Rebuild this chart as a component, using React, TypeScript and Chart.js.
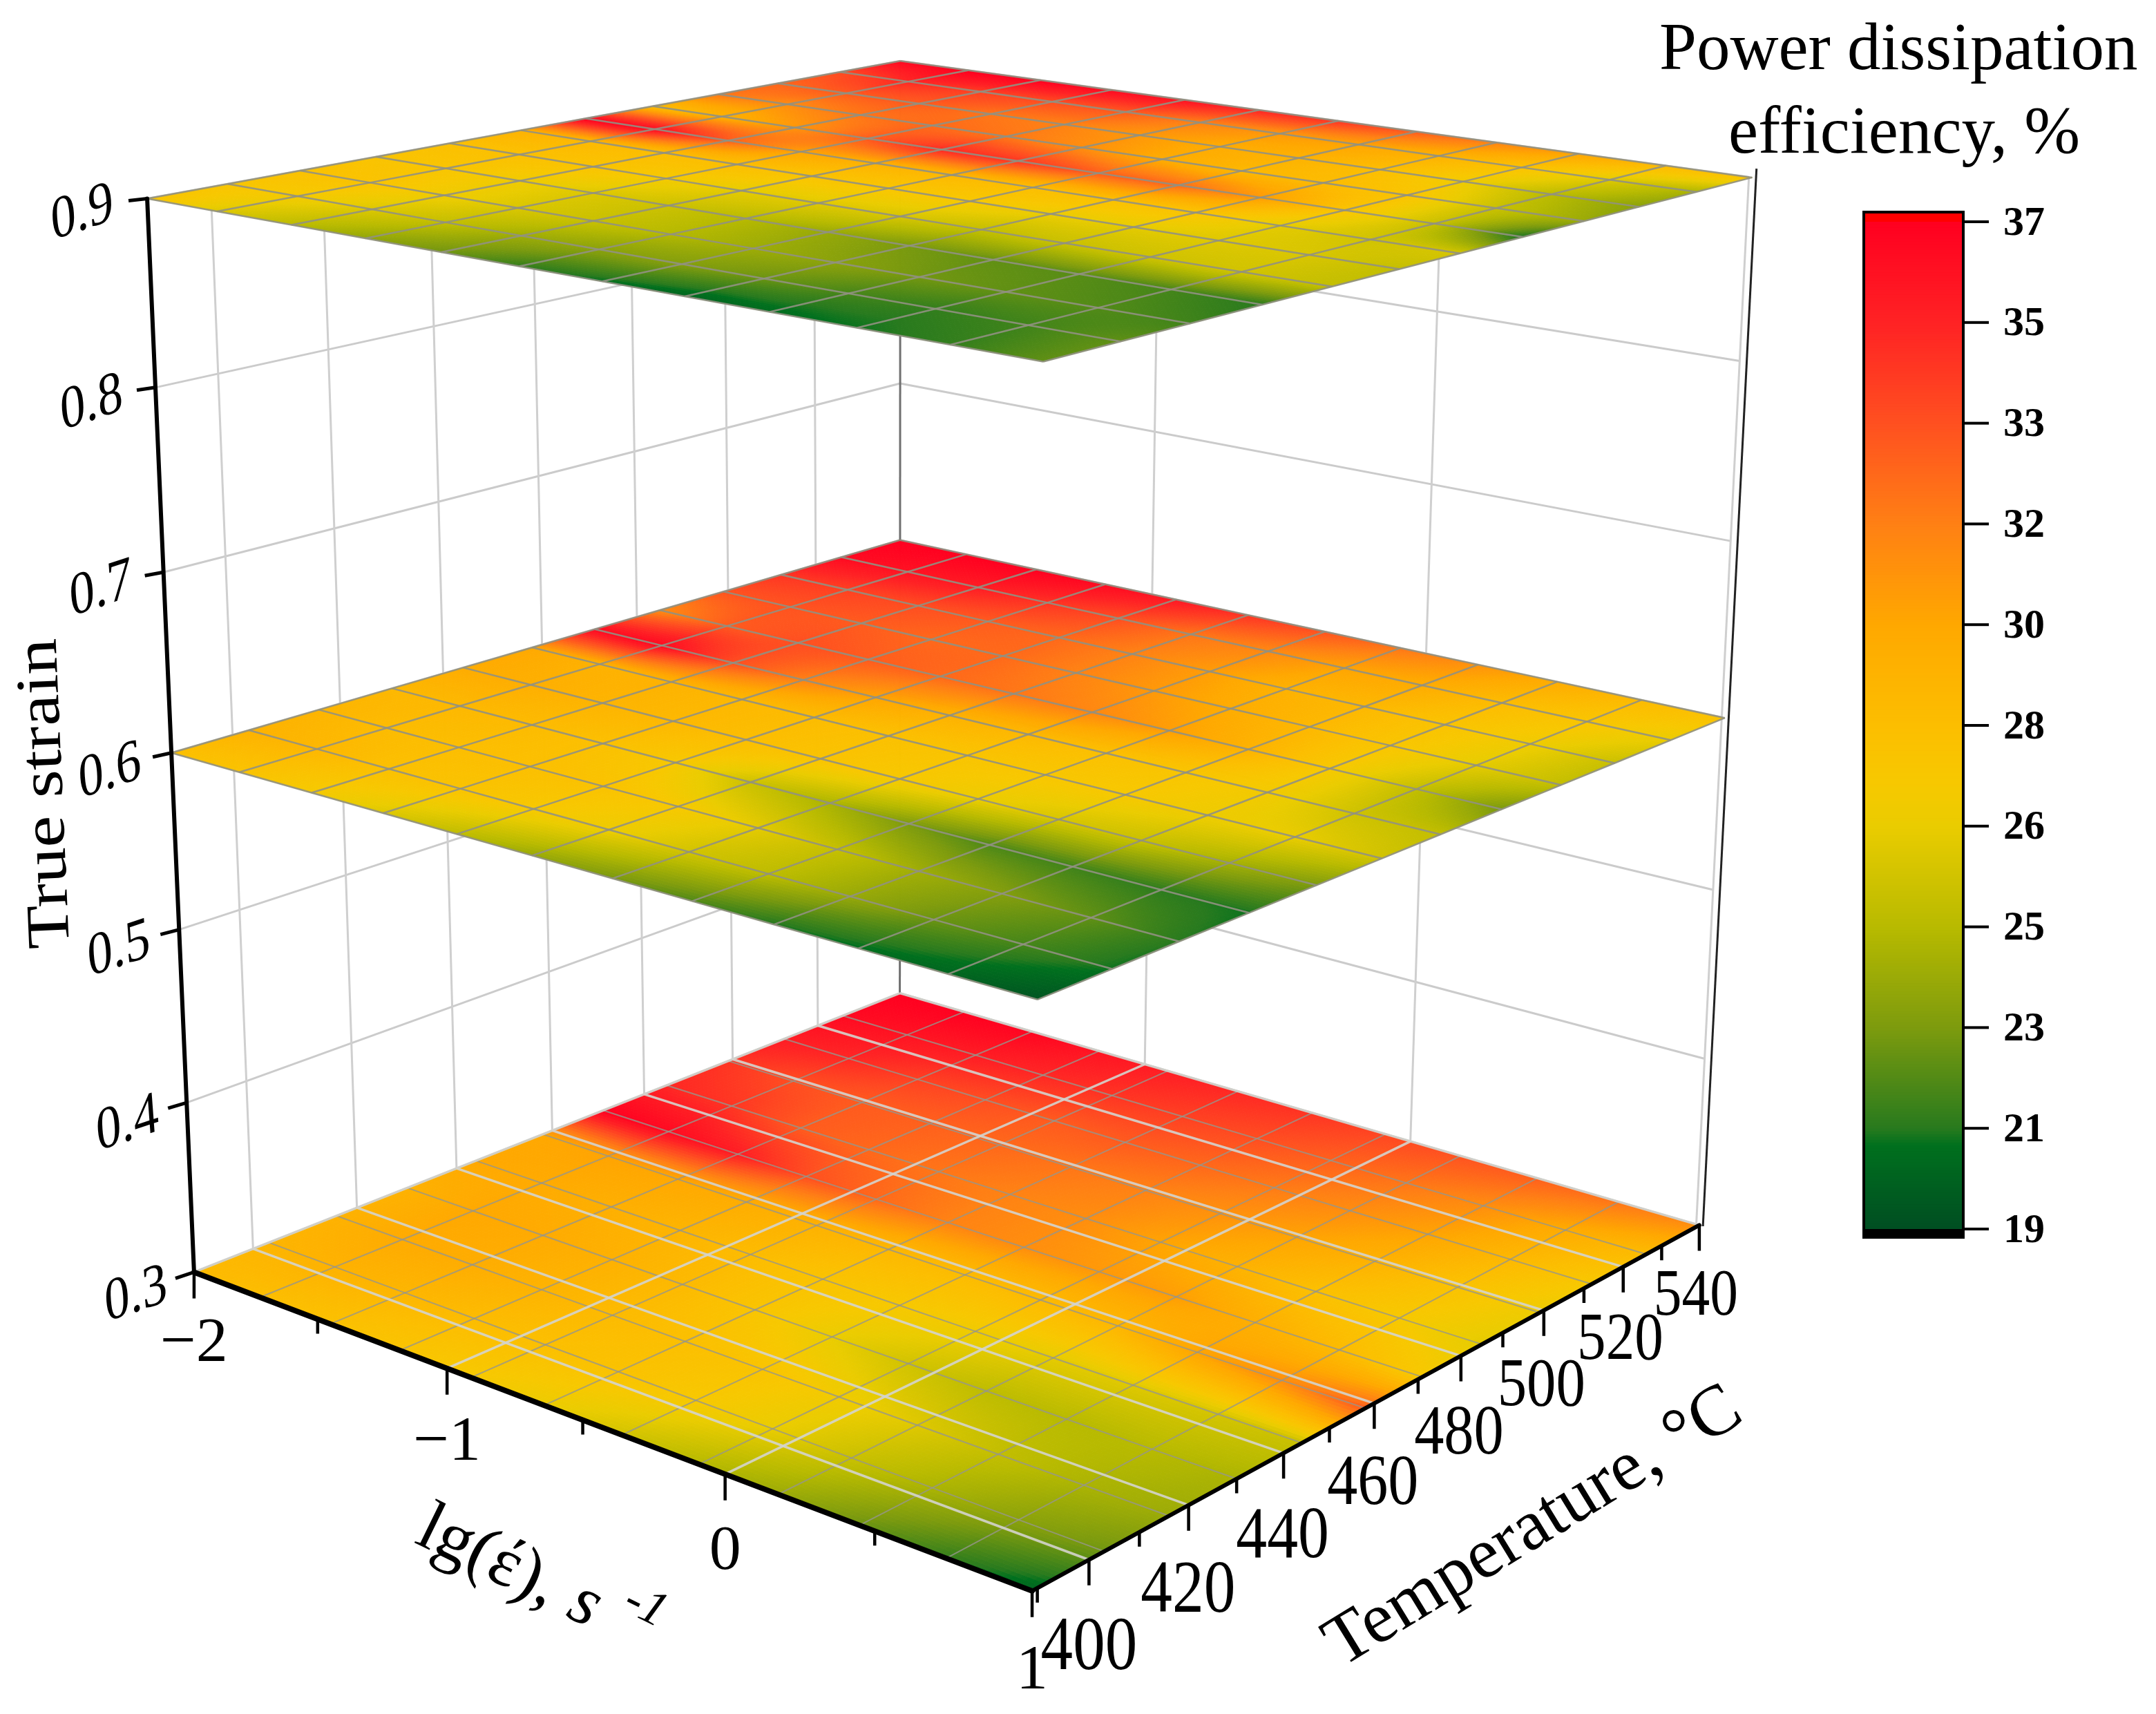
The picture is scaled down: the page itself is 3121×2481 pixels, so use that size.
import React, { useEffect, useRef } from "react";
import { Chart, registerables } from "chart.js";

Chart.register(...registerables);

const WIDTH = 3121;
const HEIGHT = 2481;
const SERIF = '"Liberation Serif", "Times New Roman", serif';

// mesh nodes of the response surfaces
const lgNodes = [-2, -1.73, -1.45, -1.18, -0.91, -0.64, -0.36, -0.09, 0.18, 0.45, 0.73, 1];
const tempNodes = [389, 403, 416, 430, 444, 458, 471, 485, 499, 512, 526, 540];

// efficiency, one row per temperature node (low to high), one column per lg node
const surface03 = [
  [28.3, 28, 27.7, 27.4, 26.9, 26.3, 25.3, 24.3, 23.5, 22.2, 21, 20],
  [28.8, 29, 28.7, 28.2, 27.9, 27.6, 27, 26.2, 25, 24, 23, 22.3],
  [29, 29.6, 29.4, 28.9, 28.3, 27.9, 27.5, 26.6, 25.8, 24.8, 24, 23.5],
  [29, 29.8, 29.6, 29.1, 28.4, 27.4, 26.2, 25.3, 24.6, 24.4, 24.4, 24],
  [29.8, 29.6, 29.2, 28.8, 28.2, 27.5, 27, 26.5, 26, 25.8, 25.4, 25],
  [29.8, 30, 29.8, 29.4, 29, 28.5, 28.2, 28.3, 28.6, 30, 31, 33],
  [37, 36.5, 35.5, 33.5, 32.5, 31.5, 31, 30.5, 30.3, 29.3, 28.3, 27],
  [35, 34.5, 33, 32.5, 32, 31.5, 31, 30, 29, 27.8, 27, 26],
  [34.5, 33.5, 33, 32.8, 32.5, 32, 31.5, 30.8, 30, 29, 27.6, 26.4],
  [35.5, 35, 34, 33.5, 33, 33, 32.5, 31.8, 31, 30, 28.5, 27],
  [36.5, 36, 35.5, 35, 34.5, 34, 33.5, 32.8, 32, 31, 29.5, 28.2],
  [37, 37, 36.8, 36, 35.4, 35, 34.5, 33.8, 33.3, 32.8, 32, 31],
];
const surface06 = [
  [27.8, 27.5, 26.8, 25.7, 24.6, 23.4, 22.5, 21.6, 20.7, 20.4, 20, 19.3],
  [29, 28.6, 27.8, 27.5, 27, 26.4, 25.3, 24.6, 23.4, 22.2, 21.4, 20.6],
  [28.8, 28.2, 28, 27.9, 27.6, 27, 26, 24.9, 23.7, 22.8, 22, 20.8],
  [28.5, 28.5, 28.3, 27.8, 27, 25.1, 24, 22.6, 21.6, 21.3, 20.9, 20.6],
  [29.5, 29.3, 28.8, 28.5, 28, 27.5, 27, 26.3, 25.5, 25, 23.8, 22.6],
  [29.8, 29, 29, 28.5, 28.2, 27.8, 27.4, 27.2, 27, 26.4, 26.2, 25.3],
  [36.5, 36.5, 33.5, 31.5, 30, 29, 28.5, 27.8, 27.3, 26.7, 25.2, 24.8],
  [31, 33, 33.5, 33, 32.5, 32, 31.3, 30.3, 29, 27, 24.8, 22.5],
  [33.3, 33.3, 33, 32.5, 32.5, 31.5, 30.5, 29.5, 28.5, 27.3, 26, 24.8],
  [34.5, 34, 33.5, 33, 32.5, 31.5, 30.3, 29, 28.5, 27.5, 26.5, 25],
  [36.5, 36, 35.5, 34.5, 33.5, 32, 31.2, 30, 29.5, 28.2, 27.3, 26.2],
  [37, 37, 37, 36.5, 35.7, 34.5, 33.3, 32, 30.8, 29.5, 28.3, 27.6],
];
const surface09 = [
  [27.5, 25.7, 24.5, 23.2, 22.3, 21, 20.4, 20, 20.3, 20.6, 21, 22],
  [27.3, 26.8, 25.7, 24.8, 23.6, 23, 22.8, 22.2, 21.4, 21, 21.3, 22],
  [27.7, 27.5, 26.5, 25.6, 25, 24.3, 23.6, 23, 22.4, 22, 21.7, 21.3],
  [27.5, 27.3, 26.5, 25.7, 25.1, 24.4, 23.4, 22.5, 22, 21.8, 21.4, 20.8],
  [27.8, 27.8, 27.5, 26.8, 26, 25.8, 25.5, 24.8, 25, 25.2, 25.3, 24.8],
  [29, 28.5, 28, 28, 27.5, 27.3, 27, 26.3, 26, 25.8, 25.6, 24.8],
  [37, 36.5, 33, 30, 29, 28.5, 28, 27.8, 27.5, 26, 25.3, 25.5],
  [28, 29, 30.5, 33, 35, 34.5, 33, 32.5, 30.5, 27.5, 25, 20.5],
  [32, 31, 32, 32.5, 32, 31, 29.5, 28.5, 28.3, 27.5, 25, 23.5],
  [32.5, 33, 33, 32, 31.5, 30.5, 29.5, 29, 28, 26.5, 24.5, 23],
  [33.5, 35, 34, 33.5, 33, 31.5, 30.5, 30, 29, 27.6, 25.8, 24],
  [36.5, 37, 37, 36.5, 36, 35, 34.5, 33, 31.5, 30, 28.3, 27.5],
];

// axis ticks
const strainTicks = [0.3, 0.4, 0.5, 0.6, 0.7, 0.8, 0.9];
const strainLabels = ["0.3", "0.4", "0.5", "0.6", "0.7", "0.8", "0.9"];
const lgMajor = [-2, -1, 0, 1];
const lgMinor = [-1.5, -0.5, 0.5];
const lgLabels = ["\u22122", "\u22121", "0", "1"];
const tempMajor = [400, 420, 440, 460, 480, 500, 520, 540];
const tempMinor = [390, 410, 430, 450, 470, 490, 510, 530];
const tempLabels = ["400", "420", "440", "460", "480", "500", "520", "540"];
const legendTicks = ["37", "35", "33", "32", "30", "28", "26", "25", "23", "21", "19"];

// colour scale of the legend
const colorValues = [19, 20.5, 20.8, 22.6, 24.4, 26.2, 27, 28, 29.8, 31.6, 33.4, 35.2, 37];
const colorStops = [
  [0, 78, 34], [0, 112, 30], [40, 122, 30], [125, 155, 14], [184, 186, 0], [234, 204, 0], [247, 200, 0],
  [252, 190, 0], [255, 168, 0], [255, 128, 20], [255, 80, 32], [255, 34, 36], [255, 0, 32],
];

function colorFor(v: number) {
  if (v <= colorValues[0]) return `rgb(${colorStops[0].join(",")})`;
  for (let i = 1; i < colorValues.length; i++) {
    if (v <= colorValues[i]) {
      const f = (v - colorValues[i - 1]) / (colorValues[i] - colorValues[i - 1]);
      const a = colorStops[i - 1];
      const b = colorStops[i];
      return `rgb(${Math.round(a[0] + (b[0] - a[0]) * f)},${Math.round(a[1] + (b[1] - a[1]) * f)},${Math.round(a[2] + (b[2] - a[2]) * f)})`;
    }
  }
  return `rgb(${colorStops[colorStops.length - 1].join(",")})`;
}

// camera: a projective matrix solved from where the box corners appear
const boxCorners = [
  [0, 0, 0, 281, 1841], [1, 0, 0, 1491, 2303], [1, 1, 0, 2461, 1771], [0, 1, 0, 1303, 1439],
  [0, 0, 0.5, 249, 1089], [1, 0, 0.5, 1503, 1449], [1, 1, 0.5, 2498, 1040], [0, 1, 0.5, 1302, 782],
  [0, 0, 1, 213, 287], [1, 0, 1, 1511, 523], [1, 1, 1, 2535, 257], [0, 1, 1, 1303, 88],
];
function solveCamera() {
  const rows: number[][] = [];
  for (const [u, v, w, px, py] of boxCorners) {
    const x = px / 1000;
    const y = py / 1000;
    rows.push([u, v, w, 1, 0, 0, 0, 0, -x * u, -x * v, -x * w, x]);
    rows.push([0, 0, 0, 0, u, v, w, 1, -y * u, -y * v, -y * w, y]);
  }
  const n = 11;
  const m: number[][] = [];
  for (let i = 0; i < n; i++) {
    m.push(new Array(n + 1).fill(0));
    for (let j = 0; j <= n; j++) for (const r of rows) m[i][j] += r[i] * r[j];
  }
  for (let c = 0; c < n; c++) {
    let p = c;
    for (let r = c + 1; r < n; r++) if (Math.abs(m[r][c]) > Math.abs(m[p][c])) p = r;
    [m[c], m[p]] = [m[p], m[c]];
    for (let r = 0; r < n; r++) {
      if (r === c) continue;
      const f = m[r][c] / m[c][c];
      for (let j = c; j <= n; j++) m[r][j] -= f * m[c][j];
    }
  }
  return m.map((r, i) => r[n] / r[i]);
}
const cam = solveCamera();
const T_MIN = 389;
const T_MAX = 540;
function project(lg: number, temp: number, strain: number) {
  const u = (lg + 2) / 3;
  const v = (temp - T_MIN) / (T_MAX - T_MIN);
  const w = (strain - 0.3) / 0.6;
  const d = cam[8] * u + cam[9] * v + cam[10] * w + 1;
  return {
    x: (1000 * (cam[0] * u + cam[1] * v + cam[2] * w + cam[3])) / d,
    y: (1000 * (cam[4] * u + cam[5] * v + cam[6] * w + cam[7])) / d,
  };
}

let seq = 100000;
function seg(points: { x: number; y: number }[], color: string, width: number, cap = "butt") {
  return {
    type: "line",
    data: points,
    parsing: false,
    borderColor: color,
    borderWidth: width,
    borderCapStyle: cap,
    pointRadius: 0,
    tension: 0,
    fill: false,
    order: seq--,
  };
}
function off(p: { x: number; y: number }, dx: number, dy: number) {
  return { x: p.x + dx, y: p.y + dy };
}

function surfaceDataset(values: number[][], strain: number) {
  const data: { x: number; y: number }[] = [];
  tempNodes.forEach((t) => lgNodes.forEach((l) => data.push(project(l, t, strain))));
  return {
    type: "scatter",
    data,
    parsing: false,
    pointRadius: 0,
    showLine: false,
    surface: values,
    order: seq--,
  };
}

function meshDatasets(strain: number, color: string, width: number) {
  const out: any[] = [];
  tempNodes.forEach((t) => out.push(seg(lgNodes.map((l) => project(l, t, strain)), color, width)));
  lgNodes.forEach((l) => out.push(seg(tempNodes.map((t) => project(l, t, strain)), color, width)));
  return out;
}

function buildDatasets() {
  seq = 100000;
  const ds: any[] = [];
  const wallH = "#cbcbcb";
  const wallV = "#cfcfcf";
  // back walls
  for (const z of strainTicks) {
    ds.push(seg([project(-2, T_MIN, z), project(-2, T_MAX, z)], wallH, 3));
    ds.push(seg([project(-2, T_MAX, z), project(0.99, T_MAX, z)], wallH, 3));
  }
  for (const t of tempMajor.slice(0, -1)) {
    ds.push(seg([project(-2, t, 0.3), project(-2, t, 0.9)], wallV, 3));
  }
  for (const l of [-1, 0, 0.99]) {
    ds.push(seg([project(l, T_MAX, 0.3), project(l, T_MAX, 0.9)], wallV, 3));
  }
  ds.push(seg([project(-2, T_MAX, 0.3), project(-2, T_MAX, 0.9)], "#707070", 3));
  ds.push(seg([project(1.012, T_MAX, 0.3), project(1.012, T_MAX, 0.905)], "#222222", 3));

  // bottom layer with floor grid on top of it
  ds.push(surfaceDataset(surface03, 0.3));
  ds.push(...meshDatasets(0.3, "rgba(150,150,140,0.8)", 2));
  for (const t of tempMajor) {
    ds.push(seg([project(-2, t, 0.3), project(1, t, 0.3)], "rgba(212,212,206,0.9)", 3.5));
  }
  for (const l of lgMajor) {
    ds.push(seg([project(l, T_MIN, 0.3), project(l, T_MAX, 0.3)], "rgba(212,212,206,0.9)", 3.5));
  }
  // middle and top layers
  ds.push(surfaceDataset(surface06, 0.6));
  ds.push(...meshDatasets(0.6, "rgba(145,145,130,0.9)", 2.5));
  ds.push(surfaceDataset(surface09, 0.9));
  ds.push(...meshDatasets(0.9, "rgba(145,145,130,0.9)", 2.5));

  // axes
  ds.push(seg([project(-2, T_MIN, 0.3), project(-2, T_MIN, 0.9)], "#000", 6, "round"));
  ds.push(seg([project(-2, T_MIN, 0.3), project(1, T_MIN, 0.3)], "#000", 8, "round"));
  ds.push(seg([project(1, T_MIN, 0.3), project(1, T_MAX, 0.3)], "#000", 6, "round"));
  strainTicks.forEach((z) => {
    const p = project(-2, T_MIN, z);
    ds.push(seg([p, off(p, -27, 9 - ((z - 0.3) / 0.6) * 6)], "#000", 5));
  });
  lgMajor.forEach((l) => {
    const p = project(l, T_MIN, 0.3);
    ds.push(seg([p, off(p, 0, 38)], "#000", 4.5));
  });
  lgMinor.forEach((l) => {
    const p = project(l, T_MIN, 0.3);
    ds.push(seg([p, off(p, 0, 21)], "#000", 4.5));
  });
  tempMajor.forEach((t) => {
    const p = project(1, t, 0.3);
    ds.push(seg([p, off(p, 0, 37)], "#000", 4.5));
  });
  tempMinor.forEach((t) => {
    const p = project(1, t, 0.3);
    ds.push(seg([p, off(p, 0, 21)], "#000", 4.5));
  });
  return ds;
}

function mix(a: number, b: number, f: number) {
  return a + (b - a) * f;
}

function drawSurface(ctx: CanvasRenderingContext2D, pts: any[], values: number[][]) {
  const rows = values.length;
  const cols = values[0].length;
  const sub = 16;
  ctx.save();
  ctx.lineWidth = 1;
  for (let r = 0; r < rows - 1; r++) {
    for (let c = 0; c < cols - 1; c++) {
      const p00 = pts[r * cols + c];
      const p01 = pts[r * cols + c + 1];
      const p10 = pts[(r + 1) * cols + c];
      const p11 = pts[(r + 1) * cols + c + 1];
      const pos = (a: number, b: number) => ({
        x: mix(mix(p00.x, p01.x, b), mix(p10.x, p11.x, b), a),
        y: mix(mix(p00.y, p01.y, b), mix(p10.y, p11.y, b), a),
      });
      for (let i = 0; i < sub; i++) {
        for (let j = 0; j < sub; j++) {
          const a = (i + 0.5) / sub;
          const b = (j + 0.5) / sub;
          const v = mix(mix(values[r][c], values[r][c + 1], b), mix(values[r + 1][c], values[r + 1][c + 1], b), a);
          const col = colorFor(v);
          const q = [pos(i / sub, j / sub), pos(i / sub, (j + 1) / sub), pos((i + 1) / sub, (j + 1) / sub), pos((i + 1) / sub, j / sub)];
          ctx.beginPath();
          ctx.moveTo(q[0].x, q[0].y);
          for (let k = 1; k < 4; k++) ctx.lineTo(q[k].x, q[k].y);
          ctx.closePath();
          ctx.fillStyle = col;
          ctx.strokeStyle = col;
          ctx.fill();
          ctx.stroke();
        }
      }
    }
  }
  ctx.restore();
}

const surfacePlugin = {
  id: "surfacePlugin",
  beforeDatasetDraw(chart: any, args: any) {
    const ds = chart.data.datasets[args.index];
    if (ds.surface) drawSurface(chart.ctx, args.meta.data, ds.surface);
  },
};

function drawLegend(chart: any) {
  const ctx = chart.ctx as CanvasRenderingContext2D;
  const X = chart.scales.x;
  const Y = chart.scales.y;
  const left = X.getPixelForValue(2698);
  const right = X.getPixelForValue(2842);
  const yOf = (v: number) => Y.getPixelForValue(1779 - (v - 19) * 81);
  const step = 0.05;
  for (let v = 19; v < 37; v += step) {
    ctx.fillStyle = colorFor(v + step / 2);
    ctx.fillRect(left, yOf(v + step) - 0.5, right - left, yOf(v) - yOf(v + step) + 1);
  }
  ctx.fillStyle = "#ff0000";
  ctx.fillRect(left, 307, right - left, yOf(37) - 307);
  ctx.fillStyle = "#000";
  ctx.fillRect(left, yOf(19), right - left, 14);
  ctx.strokeStyle = "#000";
  ctx.lineWidth = 4;
  ctx.strokeRect(left, 307, right - left, yOf(19) + 12 - 307);
  ctx.font = `bold 60px ${SERIF}`;
  ctx.textAlign = "left";
  ctx.textBaseline = "middle";
  legendTicks.forEach((lab, i) => {
    const y = yOf(37 - i * 1.8);
    ctx.fillStyle = "#000";
    ctx.fillRect(right, y - 2, 37, 4);
    ctx.fillText(lab, 2900, y + 3);
  });
}

const textPlugin = {
  id: "textPlugin",
  afterDatasetsDraw(chart: any) {
    const ctx = chart.ctx as CanvasRenderingContext2D;
    ctx.save();
    ctx.fillStyle = "#000";
    drawLegend(chart);

    ctx.fillStyle = "#000";
    ctx.textBaseline = "alphabetic";
    ctx.textAlign = "left";
    ctx.font = `97px ${SERIF}`;
    ctx.fillText("Power dissipation", 2402, 100);
    ctx.fillText("efficiency, %", 2502, 221);

    // strain labels
    strainTicks.forEach((z, i) => {
      const f = (z - 0.3) / 0.6;
      const p = project(-2, T_MIN, z);
      ctx.save();
      ctx.translate(p.x - 84 - f * 10, p.y + 34 - f * 12);
      ctx.transform(0.9, -0.3, 0.08, 1.08, 0, 0);
      ctx.font = `80px ${SERIF}`;
      ctx.textAlign = "center";
      ctx.textBaseline = "middle";
      ctx.fillText(strainLabels[i], 0, 0);
      ctx.restore();
    });

    // lg labels
    lgMajor.forEach((l, i) => {
      const p = project(l, T_MIN, 0.3);
      ctx.font = `92px ${SERIF}`;
      ctx.textAlign = "center";
      ctx.textBaseline = "middle";
      ctx.fillText(lgLabels[i], p.x, p.y + 104 + ((l + 2) / 3) * 13);
    });

    // temperature labels
    tempMajor.forEach((t, i) => {
      const f = (t - 400) / 140;
      const p = project(1, t, 0.3);
      ctx.save();
      ctx.translate(p.x - f * 5, p.y + 130 - f * 26);
      ctx.scale(0.97, 1.14);
      ctx.font = `${96 - f * 12}px ${SERIF}`;
      ctx.textAlign = "center";
      ctx.textBaseline = "middle";
      ctx.fillText(tempLabels[i], 0, 0);
      ctx.restore();
    });

    // axis titles
    ctx.textAlign = "left";
    ctx.textBaseline = "alphabetic";
    ctx.save();
    ctx.translate(100, 1372);
    ctx.rotate((-92.5 * Math.PI) / 180);
    ctx.scale(1.18, 1);
    ctx.font = `88px ${SERIF}`;
    ctx.fillText("True strain", 0, 0);
    ctx.restore();

    ctx.save();
    ctx.translate(598, 2232);
    ctx.rotate((26 * Math.PI) / 180);
    ctx.font = `102px ${SERIF}`;
    const head = "lg(\u03AD),";
    ctx.fillText(head, 0, 0);
    let w = ctx.measureText(head).width + 28;
    ctx.font = `italic 102px ${SERIF}`;
    ctx.fillText("s", w, 0);
    w += ctx.measureText("s").width + 30;
    ctx.font = `italic 72px ${SERIF}`;
    ctx.fillText("-1", w, -44);
    ctx.restore();

    ctx.save();
    ctx.translate(1942, 2414);
    ctx.rotate((-31.5 * Math.PI) / 180);
    ctx.font = `104px ${SERIF}`;
    ctx.fillText("Temperature, \u00B0C", 0, 0);
    ctx.restore();
    ctx.restore();
  },
};

export default function App() {
  const ref = useRef<HTMLCanvasElement | null>(null);
  useEffect(() => {
    document.body.style.margin = "0";
    document.body.style.background = "#fff";
    const chart = new Chart(ref.current as HTMLCanvasElement, {
      type: "scatter",
      data: { datasets: buildDatasets() } as any,
      plugins: [surfacePlugin, textPlugin],
      options: {
        animation: false,
        responsive: false,
        maintainAspectRatio: false,
        events: [],
        layout: { padding: 0 },
        plugins: { legend: { display: false }, tooltip: { enabled: false }, title: { display: false } },
        scales: {
          x: { type: "linear", min: 0, max: WIDTH, display: false },
          y: { type: "linear", min: 0, max: HEIGHT, reverse: true, display: false },
        },
      } as any,
    });
    return () => chart.destroy();
  }, []);
  return <canvas ref={ref} width={WIDTH} height={HEIGHT} style={{ display: "block", background: "#fff" }} />;
}
